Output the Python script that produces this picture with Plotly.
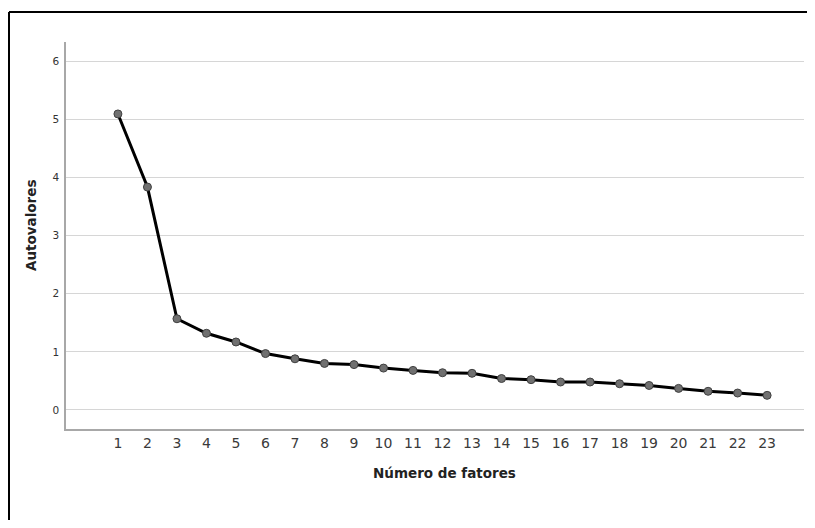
import plotly.graph_objects as go

factors = list(range(1, 24))
eigenvalues = [5.10, 3.84, 1.57, 1.32, 1.17, 0.97, 0.88, 0.80, 0.78, 0.72, 0.68,
               0.64, 0.63, 0.54, 0.52, 0.48, 0.48, 0.45, 0.42, 0.37, 0.32, 0.29, 0.25]
y_ticks = [0, 1, 2, 3, 4, 5, 6]
x_title = "Número de fatores"
y_title = "Autovalores"

fig = go.Figure()
fig.add_trace(go.Scatter(
    x=factors, y=eigenvalues, mode="lines+markers",
    line=dict(color="#000000", width=3),
    marker=dict(size=8, color="#707070", line=dict(color="#404040", width=1)),
    showlegend=False, hoverinfo="x+y",
))

# figure sized to fit the window together with the 8px browser body margin
W, H = 799, 512
L, R, T, B = 58, 3, 34, 91
pw, ph = W - L - R, H - T - B

bx0 = (1 - L) / pw
bx1 = (W + 10 - L) / pw
by1 = (H - B - 4) / ph
by0 = -(H + 10 - T - ph) / ph

fig.update_layout(
    width=W, height=H,
    margin=dict(l=L, r=R, t=T, b=B, pad=0),
    plot_bgcolor="white", paper_bgcolor="white",
    font=dict(family="DejaVu Sans", color="#333333"),
    xaxis=dict(
        range=[-0.76, 24.25], tickmode="array", tickvals=factors,
        ticktext=[str(f) for f in factors], showgrid=False, zeroline=False,
        showline=True, linecolor="#a8a8a8", linewidth=1.5, ticks="",
        tickfont=dict(size=14, color="#3a3a3a"),
    ),
    yaxis=dict(
        range=[-0.33, 6.34], tickmode="array", tickvals=y_ticks,
        showgrid=True, gridcolor="#d6d6d6", gridwidth=1.2, zeroline=False,
        showline=True, linecolor="#a8a8a8", linewidth=1.5, ticks="",
        tickfont=dict(size=10.5, color="#333333"), ticklabelstandoff=3,
    ),
    shapes=[
        dict(type="line", xref="paper", yref="paper", x0=bx0, x1=bx1, y0=by1, y1=by1,
             line=dict(color="#000000", width=2), layer="above"),
        dict(type="line", xref="paper", yref="paper", x0=bx0, x1=bx0, y0=by0, y1=by1,
             line=dict(color="#000000", width=2), layer="above"),
    ],
    annotations=[
        dict(text="<b>" + x_title + "</b>", xref="paper", yref="paper",
             x=(436 - L) / pw, y=-(465 - (H - B)) / ph, showarrow=False,
             font=dict(size=13.5, color="#222222"), xanchor="center", yanchor="middle"),
        dict(text="<b>" + y_title + "</b>", xref="paper", yref="paper",
             x=(23 - L) / pw, y=(H - B - 218) / ph, showarrow=False, textangle=-90,
             font=dict(size=13.5, color="#222222"), xanchor="center", yanchor="middle"),
    ],
)

fig.write_html("out.html")
